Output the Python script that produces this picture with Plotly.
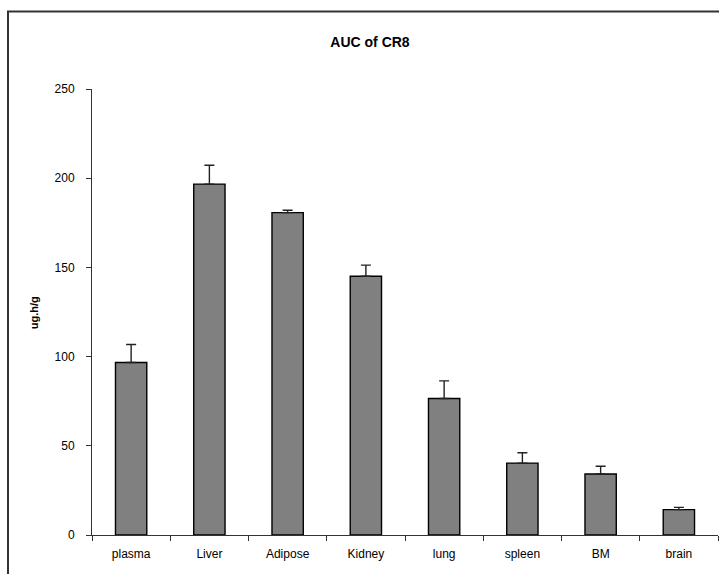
import plotly.graph_objects as go

tissues = ["plasma", "Liver", "Adipose", "Kidney", "lung", "spleen", "BM", "brain"]
auc = [96.7, 196.7, 180.7, 145.0, 76.5, 40.3, 34.2, 14.2]
auc_err = [10.1, 10.6, 1.3, 6.3, 9.9, 5.8, 4.3, 1.3]
y_ticks = [0, 50, 100, 150, 200, 250]

W, H = 719, 574
L, R, T, B = 92, 1, 88.5, 39
pw, ph = W - L - R, H - T - B


def px_x(p):
    return (p - L) / pw


def px_y(p):
    return (H - B - p) / ph


font = "Liberation Sans, Arial, sans-serif"

fig = go.Figure(
    go.Bar(
        x=tissues,
        y=auc,
        marker=dict(color="#808080", line=dict(color="#000000", width=1.4)),
        error_y=dict(
            type="data",
            symmetric=False,
            array=auc_err,
            arrayminus=[0] * len(auc_err),
            color="#222222",
            thickness=1.4,
            width=5,
        ),
        width=0.4,
    )
)

fig.update_layout(
    width=W,
    height=H,
    margin=dict(l=L, r=R, t=T, b=B, pad=0),
    paper_bgcolor="white",
    plot_bgcolor="white",
    showlegend=False,
    font=dict(family=font, size=12, color="#000000"),
    title=dict(
        text="<b>AUC of CR8</b>",
        x=370 / W,
        xanchor="center",
        y=1 - 42 / H,
        yanchor="middle",
        font=dict(family=font, size=14, color="#000000"),
    ),
)

fig.update_xaxes(
    showline=True,
    linecolor="#333333",
    linewidth=1,
    ticks="outside",
    tickson="boundaries",
    ticklen=5,
    tickcolor="#333333",
    showgrid=False,
    zeroline=False,
    fixedrange=True,
    ticklabelstandoff=8,
    tickfont=dict(family=font, size=12),
)

fig.update_yaxes(
    range=[0, 250],
    tickvals=y_ticks,
    showline=True,
    linecolor="#333333",
    linewidth=1,
    ticks="outside",
    ticklen=5,
    tickcolor="#333333",
    showgrid=False,
    zeroline=False,
    fixedrange=True,
    ticklabelstandoff=9,
    tickfont=dict(family=font, size=12),
)

fig.add_annotation(
    text="<b>ug.h/g</b>",
    xref="paper",
    yref="paper",
    x=px_x(34),
    y=px_y(313),
    xanchor="center",
    yanchor="middle",
    textangle=-90,
    showarrow=False,
    font=dict(family=font, size=11, color="#000000"),
)

# outer frame around the chart area
fig.add_shape(
    type="rect",
    xref="paper",
    yref="paper",
    x0=px_x(8),
    x1=px_x(760),
    y0=px_y(620),
    y1=px_y(11),
    line=dict(color="#333333", width=2),
    fillcolor="rgba(0,0,0,0)",
    layer="below",
)

fig.write_html("out.html")
